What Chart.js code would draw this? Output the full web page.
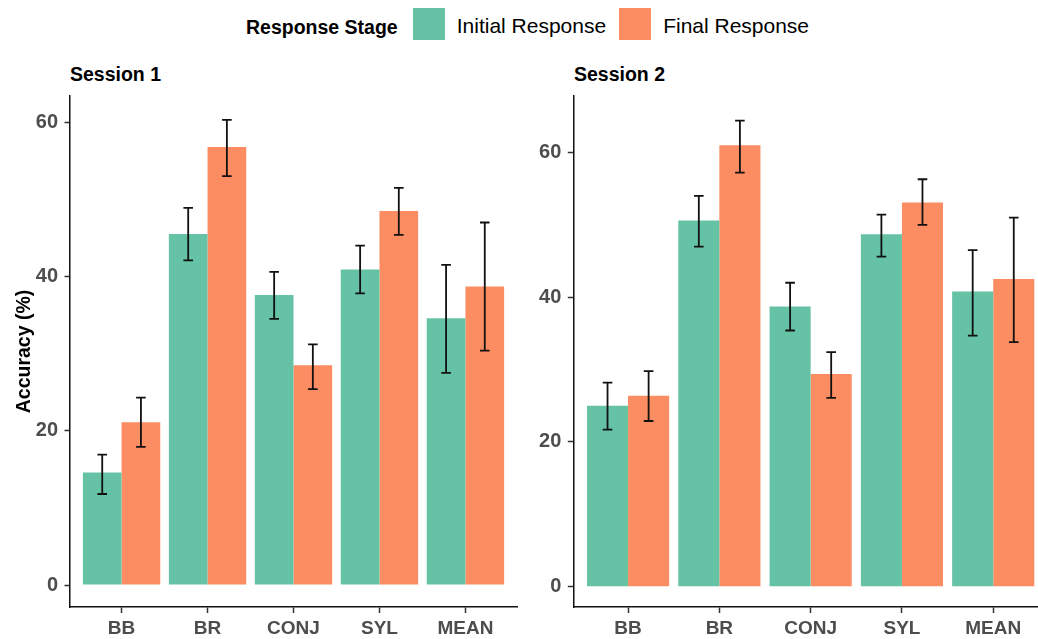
<!DOCTYPE html>
<html>
<head>
<meta charset="utf-8">
<title>Accuracy by Response Stage</title>
<script src="https://cdn.jsdelivr.net/npm/chart.js@4.4.1/dist/chart.umd.min.js"></script>
<style>
  html, body { margin: 0; padding: 0; background: #fff; }
  body { width: 1038px; height: 639px; overflow: hidden; position: relative;
         font-family: "Liberation Sans", Arial, Helvetica, sans-serif; }
  .panel { position: absolute; top: 0; }
  .txt { position: absolute; white-space: nowrap; line-height: 1; color: #000; }
  .facet { font-size: 19.5px; font-weight: bold; top: 65px; }
  #legend { position: absolute; left: 246px; top: 8px; height: 32px; display: flex; align-items: center; }
  #legend .ltitle { font-size: 19.5px; font-weight: bold; margin-right: 15px; position: relative; top: 3px; }
  #legend .key { width: 32px; height: 32px; margin-right: 12px; }
  #legend .lab { font-size: 21px; margin-right: 13px; position: relative; top: 2px; }
</style>
</head>
<body>
<div id="legend"><span class="ltitle">Response Stage</span></div>
<div class="txt facet" style="left:70px">Session 1</div>
<div class="txt facet" style="left:574px">Session 2</div>
<div class="panel" style="left:0;width:520px;height:639px"><canvas id="s1" width="520" height="639"></canvas></div>
<div class="panel" style="left:520px;width:531px;height:639px"><canvas id="s2" width="531" height="639"></canvas></div>
<script>
// Task categories and response stages
const categories = ['BB', 'BR', 'CONJ', 'SYL', 'MEAN'];
const seriesNames = ['Initial Response', 'Final Response'];
const seriesColors = ['#66C2A5', '#FC8D62'];
const yTicks = [0, 20, 40, 60];

// Session 1: mean accuracy (%) with error-bar bounds
const s1Initial     = [14.6, 45.5, 37.6, 40.9, 34.6];
const s1InitialLow  = [11.8, 42.1, 34.5, 37.8, 27.5];
const s1InitialHigh = [16.9, 48.9, 40.6, 44.0, 41.5];
const s1Final       = [21.1, 56.8, 28.5, 48.5, 38.7];
const s1FinalLow    = [17.9, 53.0, 25.4, 45.4, 30.4];
const s1FinalHigh   = [24.3, 60.3, 31.2, 51.5, 47.0];

// Session 2: mean accuracy (%) with error-bar bounds
const s2Initial     = [25.0, 50.6, 38.7, 48.7, 40.8];
const s2InitialLow  = [21.7, 47.0, 35.4, 45.6, 34.7];
const s2InitialHigh = [28.2, 54.0, 42.0, 51.4, 46.5];
const s2Final       = [26.4, 61.0, 29.4, 53.1, 42.5];
const s2FinalLow    = [22.9, 57.2, 26.1, 50.0, 33.8];
const s2FinalHigh   = [29.8, 64.4, 32.4, 56.3, 51.0];

const FONT = '"Liberation Sans", Arial, Helvetica, sans-serif';

// Legend built from the series arrays
const legend = document.getElementById('legend');
seriesNames.forEach((name, i) => {
  const key = document.createElement('span');
  key.className = 'key';
  key.style.background = seriesColors[i];
  const lab = document.createElement('span');
  lab.className = 'lab';
  lab.textContent = name;
  legend.appendChild(key);
  legend.appendChild(lab);
});

// Vertical error bars with caps, drawn on top of the bars
const errorBars = {
  id: 'errorBars',
  afterDatasetsDraw(chart) {
    const { ctx } = chart;
    const y = chart.scales.y;
    ctx.save();
    ctx.strokeStyle = '#111';
    ctx.lineWidth = 1.8;
    chart.data.datasets.forEach((ds, i) => {
      const meta = chart.getDatasetMeta(i);
      meta.data.forEach((bar, j) => {
        const x = bar.x;
        const top = y.getPixelForValue(ds.errHigh[j]);
        const bot = y.getPixelForValue(ds.errLow[j]);
        const cap = 4.8;
        ctx.beginPath();
        ctx.moveTo(x, top); ctx.lineTo(x, bot);
        ctx.moveTo(x - cap, top); ctx.lineTo(x + cap, top);
        ctx.moveTo(x - cap, bot); ctx.lineTo(x + cap, bot);
        ctx.stroke();
      });
    });
    ctx.restore();
  }
};

function makePanel(id, series, yMin, yMax, yAxisWidth, showYTitle) {
  const datasets = series.map((s, i) => ({
    label: seriesNames[i],
    data: s.values.map((v, k) => ({ x: k, y: v })),
    errLow: s.low,
    errHigh: s.high,
    backgroundColor: seriesColors[i],
    borderWidth: 0,
    categoryPercentage: 0.9,
    barPercentage: 1.0
  }));

  return new Chart(document.getElementById(id), {
    type: 'bar',
    data: { datasets },
    options: {
      responsive: false,
      animation: false,
      devicePixelRatio: 1,
      layout: { padding: { top: 96, right: 3, left: 0, bottom: 0 } },
      plugins: { legend: { display: false }, tooltip: { enabled: false }, title: { display: false } },
      scales: {
        x: {
          type: 'linear',
          min: -0.6,
          max: categories.length - 0.4,
          offset: false,
          afterBuildTicks: s => { s.ticks = categories.map((_, k) => ({ value: k })); },
          afterFit: s => { s.height = 32; },
          ticks: {
            callback: v => categories[v],
            autoSkip: false,
            maxRotation: 0,
            padding: 4,
            color: '#4d4d4d',
            font: { family: FONT, size: 19, weight: 'bold' }
          },
          grid: { display: true, offset: false, drawOnChartArea: false, drawTicks: true, tickLength: 6, tickColor: '#333', tickWidth: 1.5 },
          border: { display: true, color: '#111', width: 1.5 }
        },
        y: {
          min: yMin,
          max: yMax,
          afterBuildTicks: s => { s.ticks = yTicks.map(v => ({ value: v })); },
          afterFit: s => { s.width = yAxisWidth; },
          ticks: {
            padding: 6.5,
            color: '#4d4d4d',
            font: { family: FONT, size: 20, weight: 'bold' }
          },
          grid: { display: true, offset: false, drawOnChartArea: false, drawTicks: true, tickLength: 5.5, tickColor: '#333', tickWidth: 1.5 },
          border: { display: true, color: '#111', width: 1.5 },
          title: {
            display: showYTitle,
            text: 'Accuracy (%)',
            color: '#000',
            padding: { top: 13, bottom: 0 },
            font: { family: FONT, size: 19.5, weight: 'bold' }
          }
        }
      }
    },
    plugins: [errorBars]
  });
}

makePanel('s1', [
  { values: s1Initial, low: s1InitialLow, high: s1InitialHigh },
  { values: s1Final,   low: s1FinalLow,   high: s1FinalHigh }
], -2.85, 63.4, 70, true);

makePanel('s2', [
  { values: s2Initial, low: s2InitialLow, high: s2InitialHigh },
  { values: s2Final,   low: s2FinalLow,   high: s2FinalHigh }
], -2.8, 67.8, 53.3, false);
</script>
</body>
</html>
